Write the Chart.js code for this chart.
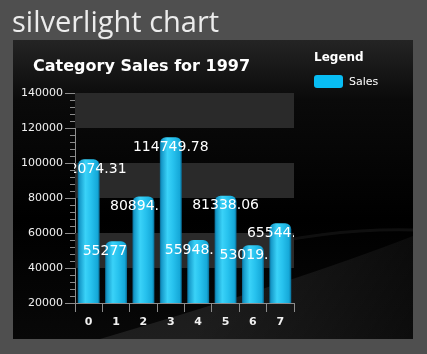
<!DOCTYPE html>
<html>
<head>
<meta charset="utf-8">
<script src="https://cdn.jsdelivr.net/npm/chart.js@4"></script>
<style>
  html, body { margin: 0; padding: 0; background: #4f4f4f; }
  #wrap { position: relative; width: 427px; height: 354px; }
</style>
</head>
<body>
<div id="wrap"><canvas id="myChart" width="427" height="354"></canvas></div>
<script>
// data
const categories = ['0', '1', '2', '3', '4', '5', '6', '7'];
const sales = [102074.31, 55277.4, 80894.6, 114749.78, 55948.4, 81338.06, 53019.5, 65544.4];
const valueLabels = ['102074.31', '55277', '80894.', '114749.78', '55948.', '81338.06', '53019.', '65544.'];
const yMin = 20000, yMax = 140000, yStep = 20000, yMinorStep = 4000;
const pageTitle = 'silverlight chart';
const chartTitle = 'Category Sales for 1997';
const legendTitle = 'Legend';

Chart.defaults.font.family = "'DejaVu Sans', Verdana, sans-serif";

// panel background, titles, legend
const panelPlugin = {
  id: 'panel',
  beforeDraw(chart) {
    const ctx = chart.ctx;
    ctx.save();
    // panel
    let g = ctx.createLinearGradient(0, 40, 0, 339);
    g.addColorStop(0, '#242424');
    g.addColorStop(0.2, '#0a0a0a');
    g.addColorStop(0.6, '#000000');
    g.addColorStop(1, '#080808');
    ctx.fillStyle = g;
    ctx.fillRect(13, 40, 400, 299);
    // soft wave bottom right
    ctx.beginPath();
    ctx.moveTo(100, 339);
    ctx.quadraticCurveTo(300, 280, 413, 236);
    ctx.lineTo(413, 339);
    ctx.closePath();
    g = ctx.createLinearGradient(250, 240, 413, 339);
    g.addColorStop(0, 'rgba(255,255,255,0.09)');
    g.addColorStop(1, 'rgba(255,255,255,0.02)');
    ctx.fillStyle = g;
    ctx.fill();
    ctx.beginPath();
    ctx.moveTo(240, 250);
    ctx.quadraticCurveTo(330, 228, 413, 230);
    ctx.strokeStyle = 'rgba(255,255,255,0.06)';
    ctx.lineWidth = 3;
    ctx.stroke();

    // page title
    ctx.fillStyle = '#ececec';
    ctx.font = "29px 'Open Sans', sans-serif";
    ctx.textBaseline = 'alphabetic';
    ctx.textAlign = 'left';
    ctx.fillText(pageTitle, 12, 32);

    // chart title
    ctx.fillStyle = '#ffffff';
    ctx.font = "bold 16px 'DejaVu Sans', sans-serif";
    ctx.textBaseline = 'middle';
    ctx.fillText(chartTitle, 33, 67);

    // legend
    ctx.font = "bold 12px 'DejaVu Sans', sans-serif";
    ctx.fillText(legendTitle, 314, 58);
    ctx.fillStyle = '#08bdf4';
    ctx.beginPath();
    ctx.roundRect(314, 75, 29, 13, 3);
    ctx.fill();
    ctx.fillStyle = '#ffffff';
    ctx.font = "11px 'DejaVu Sans', sans-serif";
    ctx.fillText(chart.data.datasets[0].label, 349, 82);
    ctx.restore();
  },
  beforeDatasetsDraw(chart) {
    // alternating bands
    const ctx = chart.ctx, y = chart.scales.y, a = chart.chartArea;
    ctx.save();
    ctx.fillStyle = '#2a2a2a';
    for (let v = yMax; v > yMin; v -= 2 * yStep) {
      const top = y.getPixelForValue(v), bot = y.getPixelForValue(v - yStep);
      ctx.fillRect(a.left, top, a.right - a.left, bot - top);
    }
    // minor ticks
    ctx.strokeStyle = '#8c8c8c';
    ctx.lineWidth = 1;
    for (let v = yMin; v <= yMax; v += yMinorStep) {
      if (v % yStep === 0) continue;
      const py = Math.round(y.getPixelForValue(v)) + 0.5;
      ctx.beginPath();
      ctx.moveTo(a.left - 5, py);
      ctx.lineTo(a.left, py);
      ctx.stroke();
    }
    ctx.restore();
  },
  afterDatasetsDraw(chart) {
    const ctx = chart.ctx, a = chart.chartArea;
    const meta = chart.getDatasetMeta(0);
    ctx.save();
    ctx.beginPath();
    ctx.rect(a.left - 1, a.top, a.right - a.left + 1, a.bottom - a.top);
    ctx.clip();
    ctx.font = "14px 'DejaVu Sans', sans-serif";
    ctx.fillStyle = '#ffffff';
    ctx.textBaseline = 'middle';
    ctx.textAlign = 'left';
    meta.data.forEach((bar, i) => {
      const full = ctx.measureText(sales[i].toFixed(2)).width;
      ctx.fillText(valueLabels[i], bar.x - full / 2, bar.y + 10);
    });
    ctx.restore();
  }
};

function barGradient(c) {
  const chart = c.chart;
  const x = chart.scales.x;
  if (!x || c.dataIndex === undefined || !chart.chartArea) return '#1cb8e8';
  const cx = x.getPixelForValue(c.dataIndex);
  const w = (x.width / categories.length) * 0.8;
  const g = chart.ctx.createLinearGradient(cx - w / 2, 0, cx + w / 2, 0);
  g.addColorStop(0, '#0a6890');
  g.addColorStop(0.08, '#1598c8');
  g.addColorStop(0.35, '#3ad2f8');
  g.addColorStop(0.6, '#27c2ee');
  g.addColorStop(0.9, '#15a8d8');
  g.addColorStop(1, '#0a6a92');
  return g;
}

const config = {
  type: 'bar',
  data: {
    labels: categories,
    datasets: [{
      label: 'Sales',
      data: sales,
      backgroundColor: barGradient,
      borderWidth: 0,
      borderRadius: { topLeft: 6, topRight: 6, bottomLeft: 0, bottomRight: 0 },
      borderSkipped: 'bottom',
      barPercentage: 0.8,
      categoryPercentage: 1
    }]
  },
  options: {
    responsive: false,
    animation: false,
    layout: { padding: { left: 13, right: 133, top: 93, bottom: 0 } },
    plugins: {
      legend: { display: false },
      title: { display: false },
      tooltip: { enabled: false }
    },
    scales: {
      x: {
        grid: { display: true, drawOnChartArea: false, offset: true, tickLength: 9, color: '#8c8c8c' },
        border: { display: true, color: '#8c8c8c' },
        ticks: { color: '#f0f0f0', padding: 4, font: { size: 11, weight: 'bold' } },
        afterFit(scale) { scale.height = 51; }
      },
      y: {
        min: yMin,
        max: yMax,
        grid: { display: true, drawOnChartArea: false, tickLength: 10, color: '#8c8c8c' },
        border: { display: true, color: '#8c8c8c' },
        ticks: {
          stepSize: yStep, color: '#f0f0f0', padding: 2, font: { size: 11 },
          callback: (v) => String(v)
        },
        afterFit(scale) { scale.width = 62; }
      }
    }
  },
  plugins: [panelPlugin]
};

const myChart = new Chart(document.getElementById('myChart').getContext('2d'), config);
</script>
</body>
</html>
